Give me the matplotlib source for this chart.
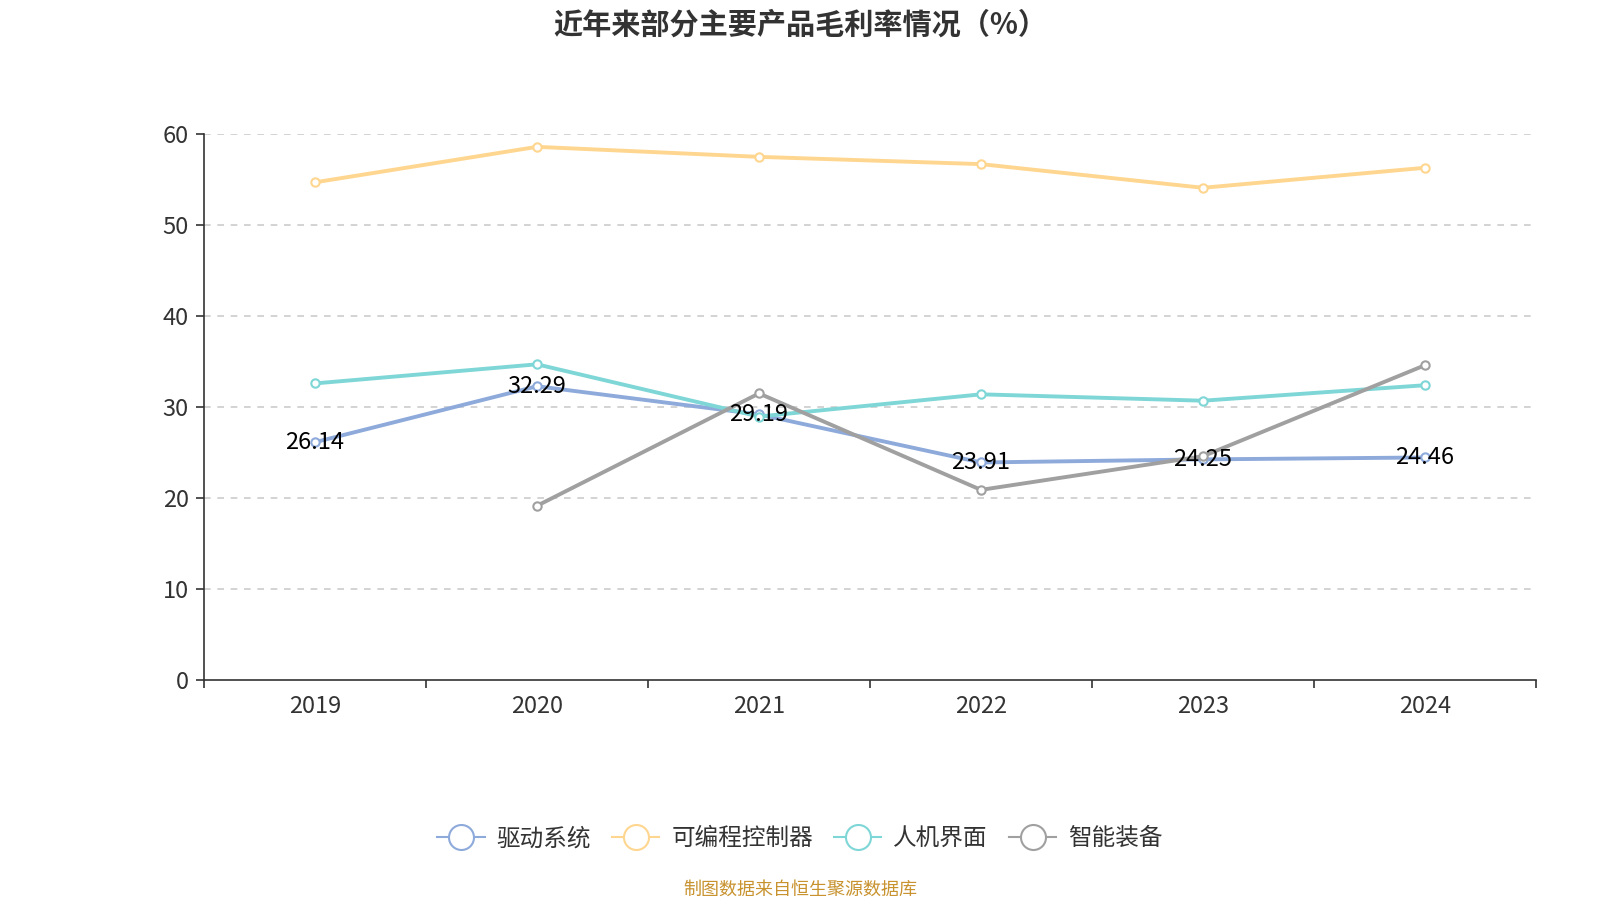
# 近年来部分主要产品毛利率情况 line chart

import numpy as np
import matplotlib
matplotlib.use("Agg")
import matplotlib.pyplot as plt
from matplotlib.lines import Line2D

plt.rcParams['font.family'] = ['Noto Sans CJK SC', 'DejaVu Sans']

years = ['2019', '2020', '2021', '2022', '2023', '2024']
series_names = ['驱动系统', '可编程控制器', '人机界面', '智能装备']
drive = [26.14, 32.29, 29.19, 23.91, 24.25, 24.46]
plc = [54.7, 58.6, 57.5, 56.7, 54.1, 56.3]
hmi = [32.6, 34.7, 28.96, 31.4, 30.7, 32.4]
smart = [np.nan, 19.15, 31.5, 20.9, 24.6, 34.6]

colors = ['#8eaadb', '#ffd68f', '#7fd6d6', '#a0a0a0']
title = '近年来部分主要产品毛利率情况（%）'
source = '制图数据来自恒生聚源数据库'

fig = plt.figure(figsize=(16, 9), dpi=100)
ax = fig.add_axes([0.1275, 0.2444, 0.8325, 0.6066])

x = np.arange(len(years))
all_series = [drive, plc, hmi, smart]
for vals, c in zip(all_series, colors):
    ax.plot(x, vals, color=c, lw=2.8, marker='o', ms=6,
            mfc='white', mec=c, mew=1.5, zorder=3)

# value labels only for 驱动系统
for xi, v in zip(x, drive):
    ax.text(xi, v, '{:.2f}'.format(v), ha='center', va='center',
            fontsize=17, color='black', zorder=5)

ax.set_xlim(-0.5, len(years) - 0.5)
ax.set_ylim(0, 60)
ax.set_yticks(np.arange(0, 61, 10))
ax.set_xticks(x)
ax.set_xticklabels(years)
ax.set_xticks(np.arange(-0.5, len(years), 1), minor=True)
ax.tick_params(axis='x', which='major', length=0, pad=11,
               labelsize=17, labelcolor='#333333')
ax.tick_params(axis='x', which='minor', length=6, width=1.2, color='#333333')
ax.tick_params(axis='y', length=6, width=1.2, color='#333333',
               labelsize=17, labelcolor='#333333', pad=5)

for yv in np.arange(10, 61, 10):
    ax.axhline(yv, color='#cccccc', lw=1.2, ls=(0, (4, 4)), zorder=1)

for s in ['top', 'right']:
    ax.spines[s].set_visible(False)
for s in ['left', 'bottom']:
    ax.spines[s].set_color('#333333')
    ax.spines[s].set_linewidth(1.2)

fig.text(0.5, 0.973, title, ha='center', va='center', fontsize=21,
         fontweight='bold', color='#333333')

handles = [Line2D([0], [0], color=c, lw=1.5, marker='o', ms=18,
                  mfc='white', mec=c, mew=1.5) for c in colors]
fig.legend(handles, series_names, loc='center', bbox_to_anchor=(0.5, 0.068),
           ncol=4, frameon=False, fontsize=17, handlelength=2.0,
           columnspacing=0.9, handletextpad=0.5, labelcolor='#333333')

fig.text(0.5, 0.012, source, ha='center', va='center', fontsize=13,
         color='#c8922e')

fig.savefig('out.png', dpi=100)
